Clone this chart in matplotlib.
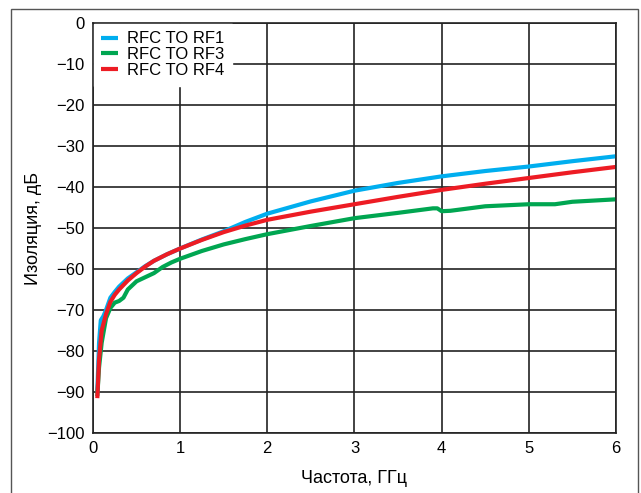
import matplotlib
matplotlib.use("Agg")
import matplotlib.pyplot as plt
from matplotlib.patches import Rectangle

plt.rcParams['font.family'] = ['Liberation Sans', 'DejaVu Sans']

# RFC TO RF1
f_rf1 = [0.05, 0.07, 0.09, 0.12, 0.15, 0.2, 0.25, 0.3, 0.4, 0.5, 0.6, 0.7, 0.85, 1.0, 1.25, 1.5, 1.75, 2.0, 2.5, 3.0, 3.5, 4.0, 4.5, 5.0, 5.5, 6.0]
iso_rf1 = [-90, -78, -72.5, -71.5, -70, -67, -65.6, -64.3, -62.3, -60.8, -59.3, -58, -56.4, -55, -52.8, -50.8, -48.5, -46.5, -43.5, -40.9, -39, -37.4, -36.1, -35, -33.7, -32.5]
# RFC TO RF3
f_rf3 = [0.05, 0.07, 0.1, 0.15, 0.2, 0.25, 0.3, 0.35, 0.4, 0.5, 0.6, 0.7, 0.8, 0.9, 1.0, 1.25, 1.5, 1.75, 2.0, 2.5, 3.0, 3.5, 3.9, 3.95, 4.0, 4.1, 4.5, 5.0, 5.3, 5.5, 6.0]
iso_rf3 = [-91, -84, -78, -72, -69.5, -68.2, -67.8, -67, -65, -63, -62, -61, -59.5, -58.4, -57.5, -55.6, -54, -52.7, -51.5, -49.5, -47.6, -46.3, -45.2, -45.2, -45.9, -45.8, -44.7, -44.2, -44.2, -43.6, -43.0]
# RFC TO RF4
f_rf4 = [0.05, 0.07, 0.1, 0.15, 0.2, 0.25, 0.3, 0.4, 0.5, 0.6, 0.7, 0.85, 1.0, 1.25, 1.5, 1.75, 2.0, 2.5, 3.0, 3.5, 4.0, 4.5, 5.0, 5.5, 6.0]
iso_rf4 = [-91.5, -82, -75, -71, -68, -66.3, -65, -62.8, -61, -59.4, -58, -56.4, -55, -52.9, -51, -49.4, -48, -46, -44.2, -42.4, -40.7, -39.2, -37.8, -36.4, -35.1]

labels = ['RFC TO RF1', 'RFC TO RF3', 'RFC TO RF4']
colors = ['#00AEEF', '#00A651', '#ED1C24']

fig = plt.figure(figsize=(6.41, 4.93), dpi=100)
ax = fig.add_axes([0.145, 0.1217, 0.816, 0.8316])

# frame around the whole picture
fig.patches.append(Rectangle((11 / 641, -0.01), 627 / 641, 1 - 9 / 493 + 0.01,
                             transform=fig.transFigure, fill=False,
                             edgecolor='#555555', linewidth=1.0))

series = [(f_rf1, iso_rf1), (f_rf3, iso_rf3), (f_rf4, iso_rf4)]
for (f, iso), lab, c in zip(series, labels, colors):
    ax.plot(f, iso, color=c, linewidth=3, label=lab, solid_capstyle='butt',
            solid_joinstyle='round')

ax.set_xlim(0, 6)
ax.set_ylim(-100, 0)
ax.set_xticks(range(0, 7))
ax.set_yticks(range(-100, 1, 10))
ax.grid(True, color='#222222', linewidth=1.2)
ax.set_axisbelow(True)
for s in ax.spines.values():
    s.set_color('#222222')
    s.set_linewidth(1.2)
ax.tick_params(length=0, labelsize=12, pad=6)

ax.set_xlabel('Частота, ГГц', fontsize=13, labelpad=10)
ax.set_ylabel('Изоляция, дБ', fontsize=13, labelpad=4)

leg = ax.legend(loc='upper left', bbox_to_anchor=(0.0, 1.0), frameon=True,
                fontsize=12, handlelength=1.0, handletextpad=0.55,
                labelspacing=0.05, borderpad=0.45, borderaxespad=0.05,
                fancybox=False)
leg.get_frame().set_edgecolor('white')
leg.get_frame().set_facecolor('white')
leg.get_frame().set_alpha(1)

fig.savefig('out.png', dpi=100)
